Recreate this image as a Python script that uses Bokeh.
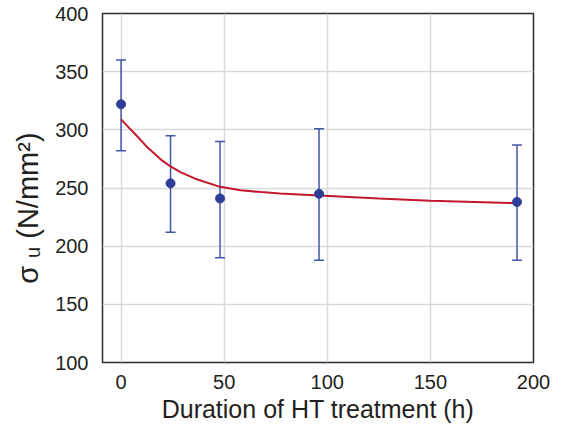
from bokeh.plotting import figure
from bokeh.models import ColumnDataSource, Whisker, FixedTicker, Range1d, TeeHead
from bokeh.embed import file_html
from bokeh.resources import INLINE

# ---- data ----
hours = [0, 24, 48, 96, 192]
strength = [322, 254, 241, 245, 238]
err_upper = [360, 295, 290, 301, 287]
err_lower = [282, 212, 190, 188, 188]

fit_hours = [0, 4, 7, 13, 20, 24, 29, 36, 48, 58, 68, 77, 96, 125, 150, 192]
fit_strength = [309, 301.5, 296, 284.5, 273.5, 268.5, 263.5, 258, 251, 248, 246.5, 245.3,
                243.5, 241, 239, 237]

x_ticks = [0, 50, 100, 150, 200]
y_ticks = [100, 150, 200, 250, 300, 350, 400]

x_label = "Duration of HT treatment (h)"
y_label = "σ ᵤ (N/mm²)"

FONT = "Liberation Sans"
BLUE = "#2f3f98"
BLUE_BAR = "#4356a8"
RED = "#c3172b"
TXT = "#231f20"

p = figure(width=563, height=428, output_backend="svg", toolbar_location=None,
           x_range=Range1d(-9, 200), y_range=Range1d(100, 400),
           min_border_left=102, min_border_right=30, min_border_top=13, min_border_bottom=66)

p.background_fill_color = "white"
p.border_fill_color = "white"
p.outline_line_color = "#2b2b2b"
p.outline_line_width = 1.5

for ax in (p.xaxis[0], p.yaxis[0]):
    ax.axis_line_color = None
    ax.major_tick_line_color = None
    ax.minor_tick_line_color = None
    ax.major_tick_in = 0
    ax.major_tick_out = 0
    ax.major_label_text_font = FONT
    ax.major_label_text_font_size = "20px"
    ax.major_label_text_color = TXT
    ax.axis_label_text_font = FONT
    ax.axis_label_text_font_style = "normal"
    ax.axis_label_text_color = TXT

p.xaxis.ticker = FixedTicker(ticks=x_ticks)
p.yaxis.ticker = FixedTicker(ticks=y_ticks)
p.xaxis.major_label_standoff = 12
p.yaxis.major_label_standoff = 14

p.xaxis.axis_label = x_label
p.xaxis.axis_label_text_font_size = "25px"
p.xaxis.axis_label_standoff = 3

# trailing no-break spaces shift the visible label a little below the frame middle
p.yaxis.axis_label = y_label + "\u00a0" * 5
p.yaxis.axis_label_text_font_size = "29px"
p.yaxis.axis_label_standoff = 8

p.grid.grid_line_color = "#d9d9d9"
p.grid.grid_line_width = 1.5

src = ColumnDataSource(dict(x=hours, y=strength, upper=err_upper, lower=err_lower))
fit_src = ColumnDataSource(dict(x=fit_hours, y=fit_strength))

p.line("x", "y", source=fit_src, line_color=RED, line_width=2)

w = Whisker(base="x", upper="upper", lower="lower", source=src,
            line_color=BLUE_BAR, line_width=1.5,
            upper_head=TeeHead(size=10, line_color=BLUE_BAR, line_width=1.5),
            lower_head=TeeHead(size=10, line_color=BLUE_BAR, line_width=1.5))
p.add_layout(w)

p.scatter("x", "y", source=src, size=9, fill_color=BLUE, line_color=BLUE)

open("out.html", "w").write(file_html(p, INLINE))
